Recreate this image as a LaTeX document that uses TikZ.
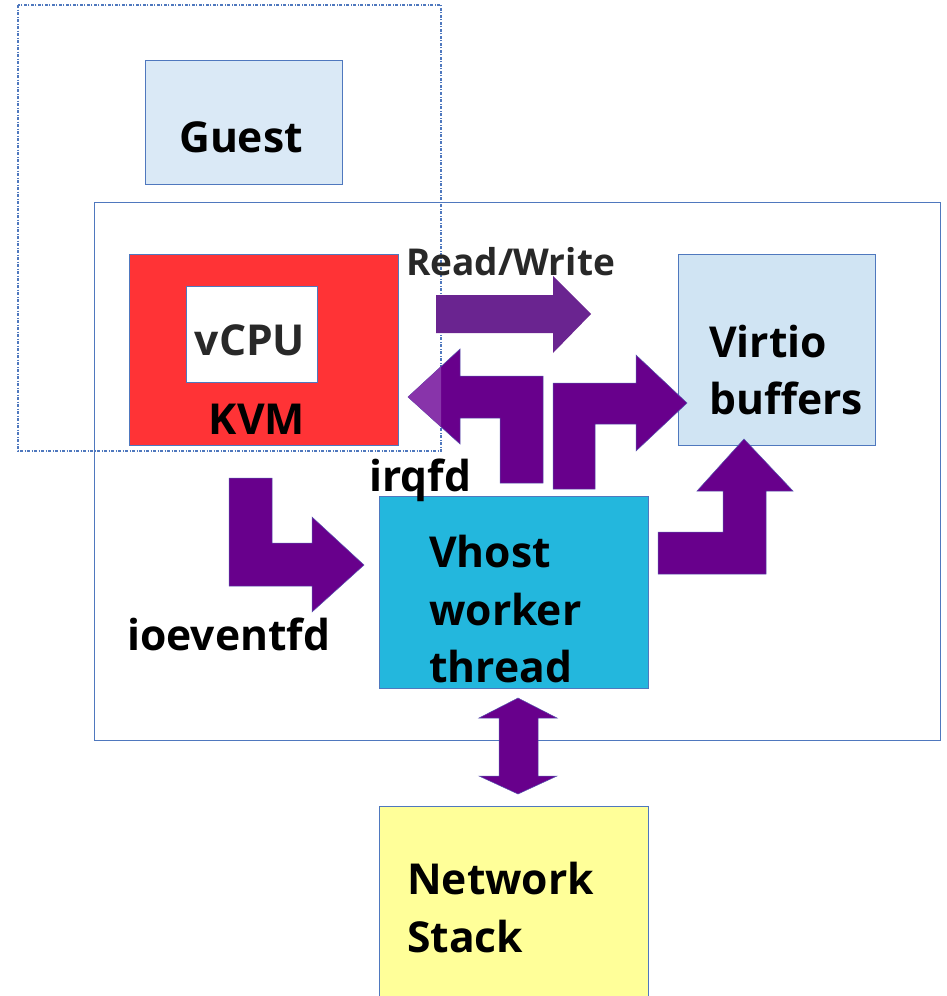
\documentclass[tikz,border=0pt]{standalone}
\usepackage{fontspec}
\setmainfont{Open Sans}[BoldFont={* Bold}]
\definecolor{edge}{RGB}{79,120,190}
\definecolor{paleblue}{RGB}{218,233,246}
\definecolor{bufblue}{RGB}{208,228,243}
\definecolor{kvmred}{RGB}{255,51,54}
\definecolor{vhostblue}{RGB}{35,183,221}
\definecolor{netyellow}{RGB}{255,255,153}
\definecolor{deeppurple}{RGB}{104,0,140}
\definecolor{rwpurple}{RGB}{106,36,144}
\definecolor{tippurple}{RGB}{136,52,170}
\definecolor{softblack}{RGB}{40,40,40}
\tikzset{
  box/.style={draw=edge, line width=0.9pt, inner sep=0pt, anchor=north west},
  lbl/.style={font=\bfseries\fontsize{42.6}{58}\selectfont, inner sep=0pt},
  small/.style={font=\bfseries\fontsize{37}{42}\selectfont, inner sep=0pt},
  blockarrow/.style={fill=deeppurple, draw=edge!70!deeppurple, line width=0.5pt, line join=miter},
}
\begin{document}
\begin{tikzpicture}[x=1pt,y=-1pt]
\useasboundingbox (0,0) rectangle (946,996);

% host frame
\node[box, minimum width=846pt, minimum height=538pt] (host) at (94,202) {};

% guest region, dash-dotted
\draw[edge, line width=1.1pt, dash pattern=on 3pt off 1.5pt on 1pt off 1.5pt]
  (18,5) rectangle (441,451);
\coordinate (guestregion) at (441,451);

% guest box
\node[box, fill=paleblue, minimum width=197pt, minimum height=124pt] (guest) at (145,60) {};
\node[lbl] (guestlbl) at (241,137) {Guest};

% KVM with vCPU
\node[box, fill=kvmred, minimum width=269pt, minimum height=191pt] (kvm) at (129,254) {};
\node[box, fill=white, minimum width=131pt, minimum height=96pt] (vcpu) at (186,286) {};
\node[lbl, text=softblack] (vcpulbl) at (250,340) {vCPU};
\node[lbl] (kvmlbl) at (257,419) {KVM};

% virtio buffers
\node[box, fill=bufblue, minimum width=197pt, minimum height=191pt] (virtio) at (678,254) {};
\node[lbl, anchor=base west] (virtiolbl1) at (709,357) {Virtio};
\node[lbl, anchor=base west] (virtiolbl2) at (709,414) {buffers};

% vhost worker
\node[box, fill=vhostblue, minimum width=269pt, minimum height=192pt] (vhost) at (379,496) {};
\node[lbl, anchor=base west] (vhostlbl1) at (429,567) {Vhost};
\node[lbl, anchor=base west] (vhostlbl2) at (429,625) {worker};
\node[lbl, anchor=base west] (vhostlbl3) at (429,682) {thread};

% network stack
\node[box, fill=netyellow, minimum width=269pt, minimum height=200pt] (net) at (379,806) {};
\node[lbl, anchor=base west] (netlbl1) at (407,894) {Network};
\node[lbl, anchor=base west] (netlbl2) at (407,952) {Stack};

% labels
\node[small, text=softblack, anchor=base west] (rwlbl) at (406,275) {Read/Write};
\node[lbl, anchor=base west] (irqlbl) at (369,491) {irqfd};
\node[lbl, anchor=base west] (ioelbl) at (127,650) {ioeventfd};

% Read/Write arrow
\fill[rwpurple] (436,295) -- (553,295) -- (553,276) -- (591,314) -- (553,353) -- (553,333) -- (436,333) -- cycle;

% irqfd bent arrow (vhost -> KVM)
\path[blockarrow] (408,397) -- (460,349) -- (460,376) -- (543,376) -- (543,483)
  -- (500,483) -- (500,418) -- (460,418) -- (460,444) -- cycle;
\begin{scope}
  \clip (18,5) rectangle (441,451);
  \fill[tippurple] (408,397) -- (460,349) -- (460,444) -- cycle;
\end{scope}

% vhost -> virtio bent arrow
\path[blockarrow] (553,489) -- (553,383) -- (636,383) -- (636,355) -- (687,403)
  -- (636,451) -- (636,424) -- (595,424) -- (595,489) -- cycle;

% ioeventfd bent arrow (KVM -> vhost)
\path[blockarrow] (229,478) -- (272,478) -- (272,543) -- (312,543) -- (312,517)
  -- (364,565) -- (312,612) -- (312,586) -- (229,586) -- cycle;

% vhost -> virtio upward arrow
\path[blockarrow] (658,574) -- (658,532) -- (723,532) -- (723,491) -- (697,491)
  -- (744,439) -- (793,491) -- (766,491) -- (766,574) -- cycle;

% vhost <-> network stack
\path[blockarrow] (518,698) -- (557,718) -- (538,718) -- (538,776) -- (557,776)
  -- (518,794) -- (479,776) -- (499,776) -- (499,718) -- (479,718) -- cycle;
\end{tikzpicture}
\end{document}
